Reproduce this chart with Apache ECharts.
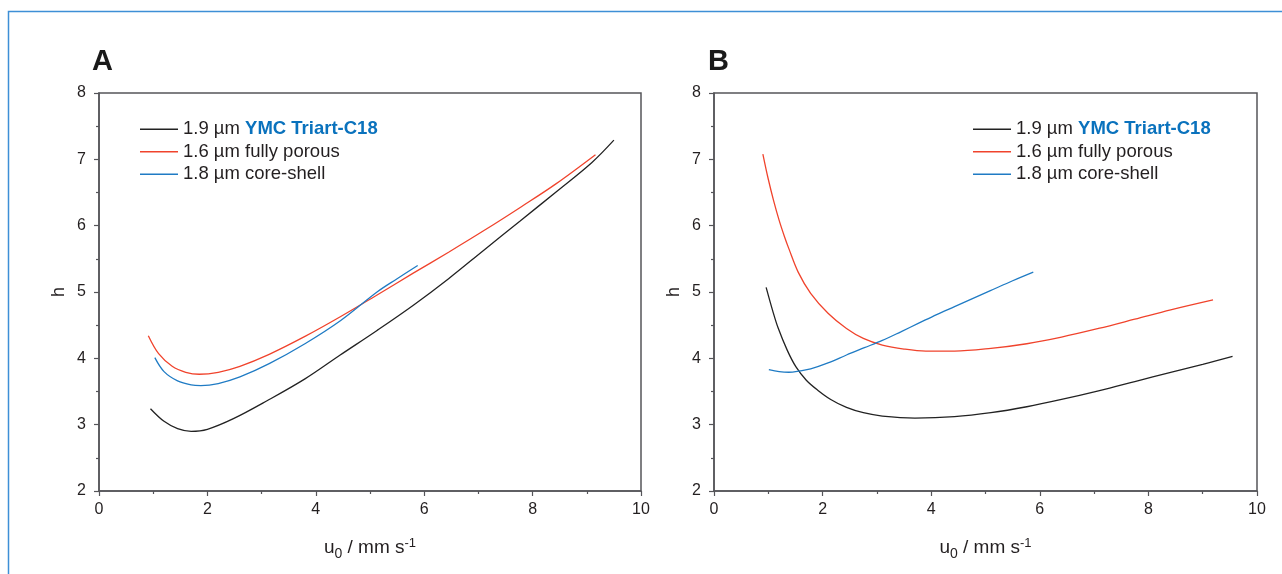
<!DOCTYPE html>
<html>
<head>
<meta charset="utf-8">
<script src="https://cdn.jsdelivr.net/npm/echarts@6/dist/echarts.min.js"></script>
<style>
html,body{margin:0;padding:0;background:#fff;}
#c{width:1282px;height:574px;}
</style>
</head>
<body>
<div id="c"></div>
<script>
// ---- data ----
const seriesNames = ['1.9 µm YMC Triart-C18', '1.6 µm fully porous', '1.8 µm core-shell'];
const xTicks = [0, 2, 4, 6, 8, 10];
const yTicks = [2, 3, 4, 5, 6, 7, 8];

// Panel A: [u0, h]
const aTriart = [[0.95,3.24],[1.2,3.05],[1.45,2.94],[1.7,2.90],[2.0,2.93],[2.48,3.09],[3.1,3.36],[3.8,3.69],[4.45,4.05],[5.13,4.42],[5.8,4.80],[6.45,5.20],[7.1,5.63],[7.77,6.07],[8.45,6.52],[9.09,6.95],[9.5,7.29]];
const aFully = [[0.91,4.34],[1.1,4.07],[1.35,3.88],[1.6,3.79],[1.85,3.76],[2.2,3.79],[2.6,3.88],[3.14,4.06],[3.8,4.33],[4.46,4.63],[5.1,4.94],[5.79,5.28],[6.45,5.60],[7.11,5.93],[7.8,6.29],[8.43,6.63],[9.16,7.07]];
const aCore = [[1.03,4.01],[1.2,3.80],[1.45,3.66],[1.7,3.60],[1.88,3.59],[2.2,3.62],[2.6,3.72],[3.14,3.92],[3.8,4.22],[4.46,4.57],[5.13,5.00],[5.5,5.20],[5.88,5.40]];

// Panel B: [u0, h]
const bTriart = [[0.96,5.07],[1.08,4.72],[1.18,4.46],[1.35,4.12],[1.51,3.87],[1.7,3.67],[1.91,3.52],[2.15,3.38],[2.44,3.26],[2.75,3.18],[3.1,3.13],[3.7,3.10],[4.43,3.12],[5.1,3.18],[5.76,3.27],[6.4,3.38],[7.08,3.51],[7.75,3.65],[8.41,3.79],[9.0,3.91],[9.55,4.03]];
const bFully = [[0.9,7.08],[1.0,6.70],[1.1,6.37],[1.2,6.08],[1.3,5.83],[1.38,5.65],[1.55,5.30],[1.78,4.98],[2.1,4.68],[2.44,4.45],[2.75,4.30],[3.1,4.20],[3.5,4.14],[3.9,4.11],[4.43,4.11],[5.1,4.15],[5.76,4.22],[6.4,4.32],[7.08,4.45],[7.75,4.59],[8.41,4.73],[9.19,4.88]];
const bCore = [[1.01,3.83],[1.2,3.80],[1.38,3.79],[1.58,3.81],[1.78,3.84],[2.1,3.93],[2.44,4.05],[2.77,4.16],[3.1,4.27],[3.44,4.40],[3.77,4.53],[4.1,4.66],[4.43,4.78],[4.76,4.90],[5.09,5.02],[5.5,5.17],[5.88,5.30]];

const colors = ['#222222', '#f0432c', '#1f7bc4'];
const FONT = '"Liberation Sans", Arial, sans-serif';
const TXT = '#231f20';
const AX = '#555559';

function xAxisCfg(gi) {
  return {
    type: 'value', gridIndex: gi, min: xTicks[0], max: xTicks[xTicks.length - 1], interval: 2,
    name: '{n|u}{s|0}{n| / mm s}{p|-1}', nameLocation: 'middle', nameGap: 44,
    nameTextStyle: {
      fontFamily: FONT, color: TXT,
      rich: {
        n: { fontSize: 19, fontFamily: FONT, color: TXT, lineHeight: 22 },
        s: { fontSize: 14, fontFamily: FONT, color: TXT, padding: [12, 0, 0, 0] },
        p: { fontSize: 13, fontFamily: FONT, color: TXT, padding: [0, 0, 10, 0] }
      }
    },
    axisLine: { onZero: false, lineStyle: { color: AX, width: 1.5 } },
    axisTick: { show: true, inside: false, length: 5, lineStyle: { color: AX, width: 1.2 } },
    minorTick: { show: true, splitNumber: 2, length: 3, lineStyle: { color: AX, width: 1.2 } },
    axisLabel: { fontSize: 16, color: TXT, fontFamily: FONT, margin: 11 },
    splitLine: { show: false }
  };
}
function yAxisCfg(gi) {
  return {
    type: 'value', gridIndex: gi, min: yTicks[0], max: yTicks[yTicks.length - 1], interval: 1,
    name: 'h', nameLocation: 'middle', nameGap: 31, nameRotate: 90,
    nameTextStyle: { fontSize: 18, color: TXT, fontFamily: FONT },
    axisLine: { onZero: false, lineStyle: { color: AX, width: 1.5 } },
    axisTick: { show: true, inside: false, length: 5, lineStyle: { color: AX, width: 1.2 } },
    minorTick: { show: true, splitNumber: 2, length: 3, lineStyle: { color: AX, width: 1.2 } },
    axisLabel: { fontSize: 16, color: TXT, fontFamily: FONT, margin: 13 },
    splitLine: { show: false }
  };
}
function legendCfg(left, top) {
  return {
    left: left, top: top, orient: 'vertical', itemGap: 0, itemWidth: 38, itemHeight: 1.6,
    icon: 'rect', data: seriesNames, selectedMode: false,
    formatter: function (n) {
      if (n === seriesNames[0]) return '{a|1.9 µm }{b|YMC Triart-C18}';
      return n;
    },
    textStyle: {
      fontSize: 18.5, color: TXT, fontFamily: FONT, lineHeight: 22.5,
      rich: {
        a: { fontSize: 18.5, color: TXT, fontFamily: FONT, lineHeight: 22.5 },
        b: { fontSize: 18.5, color: '#0a72bd', fontWeight: 'bold', fontFamily: FONT, lineHeight: 22.5 }
      }
    }
  };
}
function line(name, data, xi, ci) {
  return {
    name: name, type: 'line', xAxisIndex: xi, yAxisIndex: xi, data: data,
    smooth: 0.35, showSymbol: false, symbol: 'none', silent: true,
    lineStyle: { color: colors[ci], width: 1.3 }, itemStyle: { color: colors[ci] }
  };
}

const chart = echarts.init(document.getElementById('c'), null, { renderer: 'canvas' });
chart.setOption({
  animation: false,
  backgroundColor: '#fff',
  title: [
    { text: 'A', left: 87, top: 42, textStyle: { fontSize: 29, fontWeight: 'bold', color: '#1a1a1a', fontFamily: FONT } },
    { text: 'B', left: 703, top: 42, textStyle: { fontSize: 29, fontWeight: 'bold', color: '#1a1a1a', fontFamily: FONT } }
  ],
  graphic: [
    { type: 'rect', left: 6, top: 9, shape: { width: 1320, height: 620 }, style: { fill: 'none', stroke: '#3d8fd6', lineWidth: 1.5 }, silent: true }
  ],
  grid: [
    { left: 99, top: 93, width: 542, height: 398, show: true, borderColor: AX, borderWidth: 1.5, backgroundColor: 'transparent' },
    { left: 714, top: 93, width: 543, height: 398, show: true, borderColor: AX, borderWidth: 1.5, backgroundColor: 'transparent' }
  ],
  xAxis: [xAxisCfg(0), xAxisCfg(1)],
  yAxis: [yAxisCfg(0), yAxisCfg(1)],
  legend: [legendCfg(135, 113), legendCfg(968, 113)],
  series: [
    line(seriesNames[0], aTriart, 0, 0),
    line(seriesNames[1], aFully, 0, 1),
    line(seriesNames[2], aCore, 0, 2),
    line(seriesNames[0], bTriart, 1, 0),
    line(seriesNames[1], bFully, 1, 1),
    line(seriesNames[2], bCore, 1, 2)
  ]
});
</script>
</body>
</html>
